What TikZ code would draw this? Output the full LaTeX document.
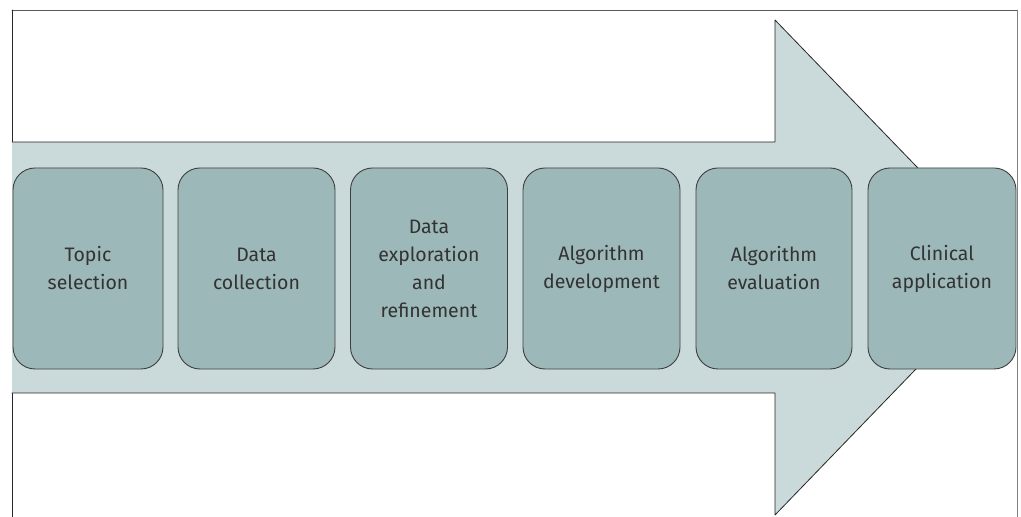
\documentclass[tikz,border=0pt]{standalone}
\usepackage{fontspec}
\setmainfont{Fira Sans}
\usetikzlibrary{positioning}
\definecolor{arrowfill}{HTML}{CAD9D9}
\definecolor{boxfill}{HTML}{9DB8B8}
\definecolor{boxline}{HTML}{3F3F3F}
\definecolor{textgray}{HTML}{333333}
\tikzset{
	stepbox/.style={draw=boxline, fill=boxfill, rounded corners=22pt, line width=0.9pt,
		minimum height=201pt, inner sep=0pt, align=center, text=textgray,
		font=\fontsize{19.5}{28}\selectfont},
}

\begin{document}
\begin{tikzpicture}[x=1pt, y=1pt, line cap=round, line join=round]
		\useasboundingbox (0,0) rectangle (1021,517);
		
		%Frame
		\draw[gray!70!black, line width=0.9pt] (12,507) -- (1017,507);
		\draw[black!85, line width=0.9pt] (12,0) -- (12,507);
		\draw[gray, line width=0.9pt] (1017,0) -- (1017,507);
		
		%Coordinates
		\coordinate (shaft top) at (12,375);
		\coordinate (shaft bottom) at (12,124);
		\coordinate (notch top) at (775,375);
		\coordinate (notch bottom) at (775,124);
		\coordinate (head top) at (775,497);
		\coordinate (head bottom) at (775,2);
		\coordinate (tip) at (1014,249.5);
		
		%Arrow
		\draw[fill=arrowfill, draw=black!85, line width=0.8pt] (shaft bottom) -- (notch bottom) -- (head bottom) -- (tip) -- (head top) -- (notch top) -- (shaft top);
		
		%Nodes
		\node[stepbox, minimum width=150pt] (topic) at (88,248.5) {Topic\\selection};
		\node[stepbox, minimum width=157pt] (collection) at (256.5,248.5) {Data\\collection};
		\node[stepbox, minimum width=157pt] (exploration) at (429,248.5) {Data\\exploration\\and\\refinement};
		\node[stepbox, minimum width=157pt] (development) at (601.5,248.5) {Algorithm\\development};
		\node[stepbox, minimum width=156pt] (evaluation) at (774,248.5) {Algorithm\\evaluation};
		\node[stepbox, minimum width=148pt] (application) at (942,248.5) {Clinical\\application};
		
	\end{tikzpicture}
\end{document}
